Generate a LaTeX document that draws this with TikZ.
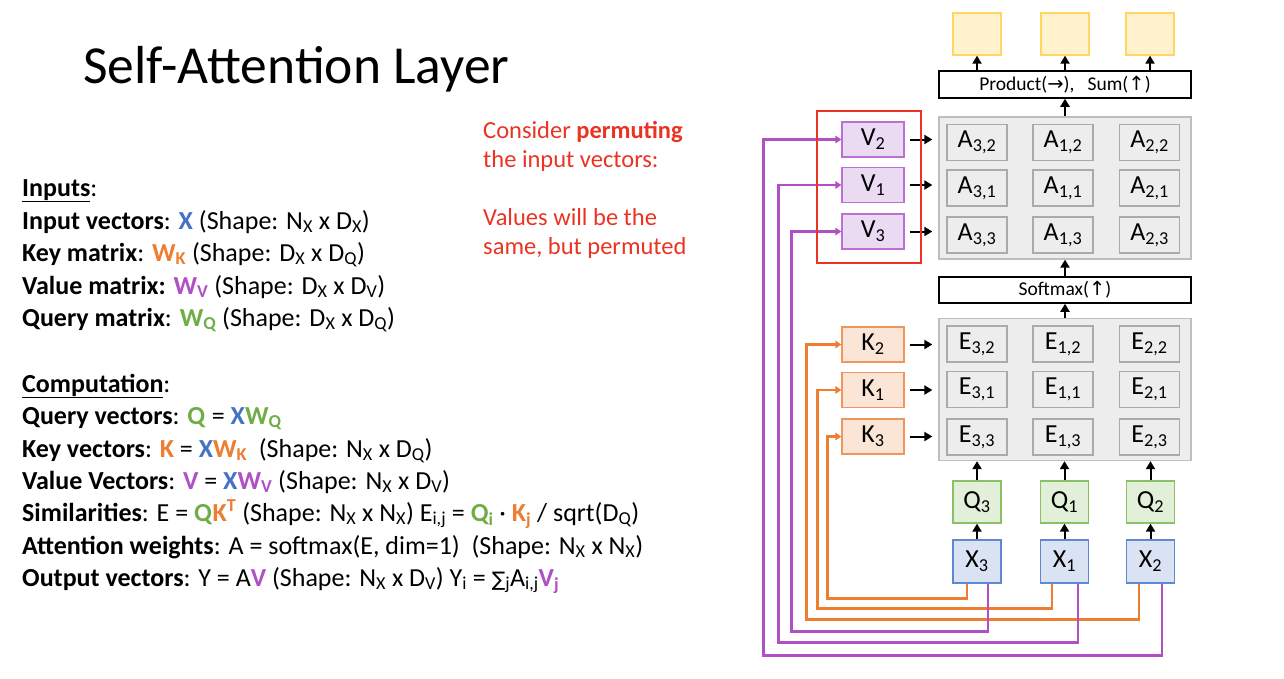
\documentclass[tikz,border=0pt]{standalone}
\usepackage{fontspec}
\setmainfont{Carlito}
\newfontfamily\symfont{DejaVu Sans}
\usepackage{xcolor}
\usetikzlibrary{arrows.meta,positioning,calc}

\definecolor{xblue}{RGB}{68,114,196}
\definecolor{korange}{RGB}{237,125,49}
\definecolor{vpurple}{RGB}{177,79,197}
\definecolor{qgreen}{RGB}{112,173,71}
\definecolor{permred}{RGB}{234,51,35}
\definecolor{vfill}{RGB}{234,218,242}
\definecolor{vdraw}{RGB}{190,112,210}
\definecolor{kfill}{RGB}{251,229,214}
\definecolor{kdraw}{RGB}{240,150,90}
\definecolor{qfill}{RGB}{226,240,217}
\definecolor{qdraw}{RGB}{140,192,100}
\definecolor{xfill}{RGB}{218,227,243}
\definecolor{xdraw}{RGB}{95,135,210}
\definecolor{yfill}{RGB}{255,242,204}
\definecolor{ydraw}{RGB}{255,214,100}
\definecolor{panelfill}{RGB}{237,237,237}
\definecolor{paneldraw}{RGB}{190,190,190}
\definecolor{celldraw}{RGB}{170,170,170}

\newcommand\sub[1]{\textsubscript{#1}}
\newcommand\bX{\textcolor{xblue}{\textbf{X}}}
\newcommand\bQ{\textcolor{qgreen}{\textbf{Q}}}
\newcommand\bK{\textcolor{korange}{\textbf{K}}}
\newcommand\bV{\textcolor{vpurple}{\textbf{V}}}
\newcommand\bWQ{\textcolor{qgreen}{\textbf{W\sub{Q}}}}
\newcommand\bWK{\textcolor{korange}{\textbf{W\sub{K}}}}
\newcommand\bWV{\textcolor{vpurple}{\textbf{W\sub{V}}}}

\begin{document}
\begin{tikzpicture}[x=1pt, y=-1pt]
\tikzstyle{txt}=[anchor=base west,
                 inner sep=0pt,
                 font=\fontsize{26}{30}\selectfont]
\tikzstyle{note}=[anchor=base west,
                  inner sep=0pt,
                  text=permred,
                  font=\fontsize{24.5}{29}\selectfont]
\tikzstyle{vecbox}=[rectangle,
                    line width=1.3pt,
                    inner sep=0pt,
                    font=\fontsize{26}{30}\selectfont]
\tikzstyle{vbox}=[vecbox, draw=vdraw, fill=vfill,
                  minimum width=62pt, minimum height=35pt]
\tikzstyle{kbox}=[vecbox, draw=kdraw, fill=kfill,
                  minimum width=62pt, minimum height=35pt]
\tikzstyle{qbox}=[vecbox, draw=qdraw, fill=qfill,
                  minimum width=48pt, minimum height=42pt]
\tikzstyle{xbox}=[vecbox, draw=xdraw, fill=xfill,
                  minimum width=48pt, minimum height=43pt]
\tikzstyle{ybox}=[vecbox, draw=ydraw, fill=yfill,
                  minimum width=48pt, minimum height=42pt]
\tikzstyle{panel}=[rectangle, draw=paneldraw, fill=panelfill,
                   line width=1.3pt,
                   minimum width=252pt, minimum height=142pt]
\tikzstyle{cell}=[vecbox, draw=celldraw, fill=panelfill,
                  minimum width=60pt, minimum height=36pt]
\tikzstyle{opbox}=[rectangle, draw=black, fill=white,
                   line width=1.5pt,
                   minimum width=252pt, minimum height=27pt,
                   font=\fontsize{19.5}{23}\selectfont]
\tikzstyle{blk}=[line width=2pt, -{Triangle[length=8pt,width=9pt]}]
\tikzstyle{kwire}=[draw=korange, line width=2.6pt, -{Triangle[length=6pt,width=7.5pt]}]
\tikzstyle{vwire}=[draw=vpurple, line width=2.6pt, -{Triangle[length=6pt,width=7.5pt]}]
\useasboundingbox (0,0) rectangle (1284,678);

% left side text
\node[anchor=base west, inner sep=0pt, font=\fontsize{53.5}{60}\selectfont]
  (title) at (83,83) {Self-Attention Layer};

\node[txt] (inputs) at (22,196) {\underline{\textbf{Inputs}}:};
\node[txt] (in1) at (22,229) {\textbf{Input vectors}: \bX{} (Shape: N\sub{X} x D\sub{X})};
\node[txt] (in2) at (22,261) {\textbf{Key matrix}: \bWK{} (Shape: D\sub{X} x D\sub{Q})};
\node[txt] (in3) at (22,294) {\textbf{Value matrix:} \bWV{} (Shape: D\sub{X} x D\sub{V})};
\node[txt] (in4) at (22,326) {\textbf{Query matrix}: \bWQ{} (Shape: D\sub{X} x D\sub{Q})};

\node[txt] (comp) at (22,392) {\underline{\textbf{Computation}}:};
\node[txt] (c1) at (22,424) {\textbf{Query vectors}: \bQ{} = \bX\bWQ};
\node[txt] (c2) at (22,457) {\textbf{Key vectors}: \bK{} = \bX\bWK{}~ (Shape: N\sub{X} x D\sub{Q})};
\node[txt] (c3) at (22,489) {\textbf{Value Vectors}: \bV{} = \bX\bWV{} (Shape: N\sub{X} x D\sub{V})};
\node[txt] (c4) at (22,521) {\textbf{Similarities}: E = \bQ\textcolor{korange}{\textbf{K\textsuperscript{T}}}
  (Shape: N\sub{X} x N\sub{X}) E\sub{i,j} = \textcolor{qgreen}{\textbf{Q\sub{i}}} ·
  \textcolor{korange}{\textbf{K\sub{j}}} / sqrt(D\sub{Q})};
\node[txt] (c5) at (22,554) {\textbf{Attention weights}: A = softmax(E, dim=1)~ (Shape: N\sub{X} x N\sub{X})};
\node[txt] (c6) at (22,586) {\textbf{Output vectors}: Y = A\bV{} (Shape: N\sub{X} x D\sub{V})
  Y\sub{i} = {\symfont\fontsize{20}{24}\selectfont ∑}\sub{j}A\sub{i,j}\textcolor{vpurple}{\textbf{V\sub{j}}}};

\node[note] (perm1) at (483,138) {Consider \textbf{permuting}};
\node[note] (perm2) at (483,167) {the input vectors:};
\node[note] (perm3) at (483,225) {Values will be the};
\node[note] (perm4) at (483,254) {same, but permuted};

% right side diagram
\node[panel] (apanel) at (1065,188) {};
\node[panel] (epanel) at (1065,389.5) {};
\foreach \c/\x in {3/977,1/1063,2/1149.5}
  \foreach \r/\y in {2/142.5,1/188,3/235}
    \node[cell] (a\c\r) at (\x,\y) {A\sub{\c,\r}};
\foreach \c/\x in {3/977,1/1063,2/1149.5}
  \foreach \r/\y in {2/344,1/389.5,3/437}
    \node[cell] (e\c\r) at (\x,\y) {E\sub{\c,\r}};

\node[opbox] (prod) at (1065,84.5) {Product({\symfont →}),~~ Sum({\symfont ↑})};
\node[opbox, minimum height=26pt] (soft) at (1065,290) {Softmax({\symfont ↑})};

\foreach \x [count=\i] in {977,1065,1150}
  \node[ybox] (y\i) at (\x,34) {};
\foreach \i/\y in {2/139.5,1/185,3/231.5}
  \node[vbox] (v\i) at (873,\y) {V\sub{\i}};
\foreach \i/\y in {2/344.5,1/390,3/436.5}
  \node[kbox] (k\i) at (873,\y) {K\sub{\i}};
\foreach \i/\x in {3/977,1/1064.5,2/1150.5} {
  \node[qbox] (q\i) at (\x,502) {Q\sub{\i}};
  \node[xbox] (x\i) at (\x,561.5) {X\sub{\i}};
}

\foreach \i in {1,2,3}
  \draw[blk] (y\i.south |- prod.north) -- (y\i.south);
\draw[blk] (apanel.north) -- (prod.south);
\draw[blk] (soft.north) -- (apanel.south);
\draw[blk] (epanel.north) -- (soft.south);
\foreach \i in {1,2,3} {
  \draw[blk] (x\i.north) -- (q\i.south);
  \draw[blk] (q\i.north) -- (q\i.north |- epanel.south);
  \draw[blk, shorten <=5pt, shorten >=6pt] (v\i.east) -- (v\i.east -| apanel.west);
  \draw[blk, shorten <=5pt, shorten >=6pt] (k\i.east) -- (k\i.east -| epanel.west);
}

% keys from inputs
\draw[kwire] ([xshift=-10pt]x3.south) -- ++(0,15) -| ([xshift=-14pt]k3.west) -- (k3.west);
\draw[kwire] ([xshift=-12.5pt]x1.south) -- ++(0,25) -| ([xshift=-24pt]k1.west) -- (k1.west);
\draw[kwire] ([xshift=-11.5pt]x2.south) -- ++(0,36) -| ([xshift=-35pt]k2.west) -- (k2.west);
% values from inputs
\draw[vwire] ([xshift=11pt]x3.south) -- ++(0,48) -| ([xshift=-50pt]v3.west) -- (v3.west);
\draw[vwire] ([xshift=13.5pt]x1.south) -- ++(0,59) -| ([xshift=-63pt]v1.west) -- (v1.west);
\draw[vwire] ([xshift=11.5pt]x2.south) -- ++(0,72) -| ([xshift=-78pt]v2.west) -- (v2.west);

\node[rectangle, draw=permred, line width=2.5pt,
      minimum width=104pt, minimum height=152pt] (permbox) at (869,187) {};
\end{tikzpicture}
\end{document}
